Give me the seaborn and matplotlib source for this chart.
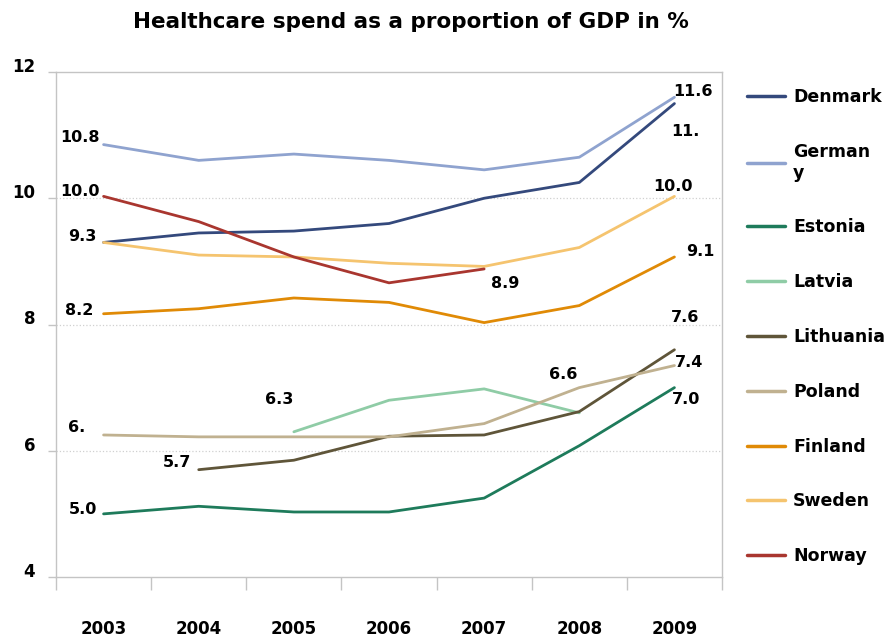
import numpy as np
import pandas as pd
import seaborn as sns
import matplotlib.pyplot as plt

nan = np.nan
years = [2003, 2004, 2005, 2006, 2007, 2008, 2009]
countries = ['Denmark', 'Germany', 'Estonia', 'Latvia', 'Lithuania',
             'Poland', 'Finland', 'Sweden', 'Norway']
legend_labels = ['Denmark', 'German\ny', 'Estonia', 'Latvia', 'Lithuania',
                 'Poland', 'Finland', 'Sweden', 'Norway']

denmark = [9.3, 9.45, 9.48, 9.6, 10.0, 10.25, 11.5]
germany = [10.85, 10.6, 10.7, 10.6, 10.45, 10.65, 11.6]
estonia = [5.0, 5.12, 5.03, 5.03, 5.25, 6.08, 7.0]
latvia = [nan, nan, 6.3, 6.8, 6.98, 6.6, nan]
lithuania = [nan, 5.7, 5.85, 6.23, 6.25, 6.62, 7.6]
poland = [6.25, 6.22, 6.22, 6.22, 6.43, 7.0, 7.35]
finland = [8.17, 8.25, 8.42, 8.35, 8.03, 8.3, 9.07]
sweden = [9.3, 9.1, 9.07, 8.97, 8.92, 9.22, 10.03]
norway = [10.03, 9.63, 9.07, 8.66, 8.88, nan, nan]

colors = ['#34497c', '#8fa3cf', '#1e7b5b', '#8fcca6', '#5f5539',
          '#c0b190', '#e08a06', '#f5c46f', '#a9362f']

# data labels: (country, year, text, dx px, dy px)
point_labels = [
    ('Germany', 2003, '10.8', -24, 7),
    ('Norway', 2003, '10.0', -24, 5),
    ('Denmark', 2003, '9.3', -21, 6),
    ('Finland', 2003, '8.2', -24, 3),
    ('Poland', 2003, '6.', -27, 7),
    ('Estonia', 2003, '5.0', -21, 4),
    ('Lithuania', 2004, '5.7', -22, 7),
    ('Latvia', 2005, '6.3', -15, 32),
    ('Norway', 2007, '8.9', 21, -15),
    ('Latvia', 2008, '6.6', -16, 38),
    ('Germany', 2009, '11.6', 19, 6),
    ('Denmark', 2009, '11.', 11, -28),
    ('Sweden', 2009, '10.0', -1, 10),
    ('Finland', 2009, '9.1', 26, 5),
    ('Lithuania', 2009, '7.6', 11, 32),
    ('Poland', 2009, '7.4', 15, 3),
    ('Estonia', 2009, '7.0', 12, -12),
]

series = [denmark, germany, estonia, latvia, lithuania,
          poland, finland, sweden, norway]
df = pd.DataFrame({
    'year': years * len(countries),
    'country': np.repeat(countries, len(years)),
    'value': np.concatenate(series),
})

sns.set_style('white')
plt.rcParams['font.family'] = ['DejaVu Sans']
plt.rcParams['font.weight'] = 'bold'
plt.rcParams['text.color'] = 'black'
plt.rcParams['xtick.labelcolor'] = 'black'
plt.rcParams['ytick.labelcolor'] = 'black'

fig = plt.figure(figsize=(8.92, 6.37), dpi=100)
ax = fig.add_axes([56 / 892, 1 - 577 / 637, 666 / 892, 505 / 637])

sns.lineplot(data=df.dropna(), x='year', y='value', hue='country',
             hue_order=countries, palette=colors, linewidth=2.0,
             sort=True, ax=ax)

ax.set_xlim(2002.5, 2009.5)
ax.set_ylim(4, 12)
ax.set_xlabel('')
ax.set_ylabel('')

grid_c = '#c4c4c4'
for s in ax.spines.values():
    s.set_color(grid_c)
    s.set_linewidth(1.0)

ax.set_yticks([4, 6, 8, 10, 12])
ax.tick_params(axis='y', left=True, length=6, width=1, color=grid_c,
               pad=9, labelsize=12)
for lab in ax.get_yticklabels():
    lab.set_fontweight('bold')
    lab.set_va('baseline')
for yv in [6, 8, 10]:
    ax.axhline(yv, color='#d0d0d0', linestyle=':', linewidth=0.9, zorder=0)

ax.set_xticks([y - 0.5 for y in years] + [2009.5])
ax.set_xticklabels([])
ax.set_xticks(years, minor=True)
ax.set_xticklabels([str(y) for y in years], minor=True,
                   fontsize=12, fontweight='bold')
ax.tick_params(axis='x', which='major', bottom=True, length=9, width=1,
               color=grid_c)
ax.tick_params(axis='x', which='minor', bottom=True, length=0, pad=31)

lookup = {c: dict(zip(years, v)) for c, v in zip(countries, series)}
for c, yr, txt, dx, dy in point_labels:
    ax.annotate(txt, xy=(yr, lookup[c][yr]), xytext=(dx, dy),
                textcoords='offset pixels', ha='center', va='center',
                fontsize=11.5, fontweight='bold', color='black')

handles, _ = ax.get_legend_handles_labels()
for h in handles:
    h.set_linewidth(2.5)
ax.legend(handles, legend_labels, loc='upper left',
          bbox_to_anchor=(747 / 892, 1 - 88 / 637),
          bbox_transform=fig.transFigure, frameon=False,
          fontsize=12.5, handlelength=2.2, handletextpad=0.45,
          labelspacing=2.12, borderpad=0, borderaxespad=0)
for t in ax.get_legend().get_texts():
    t.set_fontweight('bold')
    t.set_color('black')

fig.text(411 / 892, 1 - 22 / 637,
         'Healthcare spend as a proportion of GDP in %',
         ha='center', va='center', fontsize=15.5, fontweight='bold',
         color='black')

fig.savefig('out.png', dpi=100)
